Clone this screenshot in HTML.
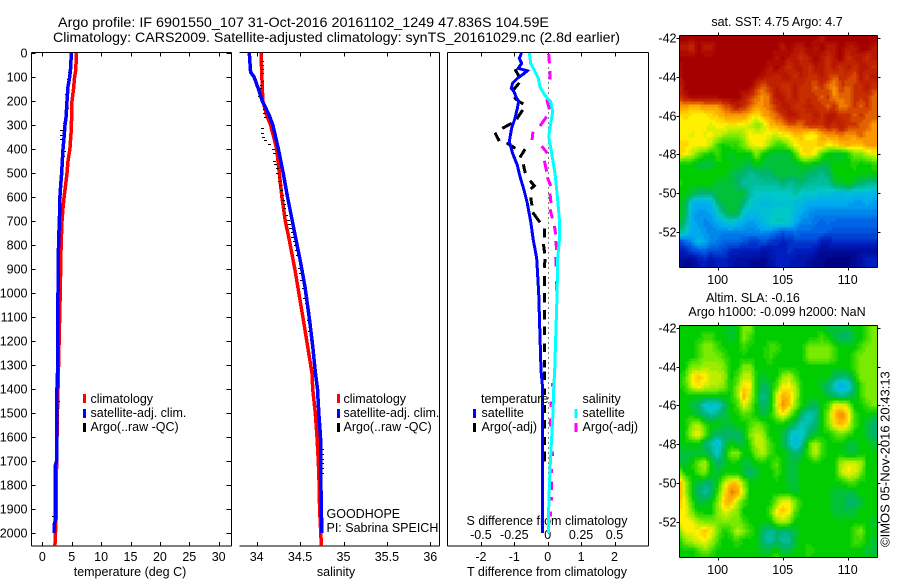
<!DOCTYPE html>
<html>
<head>
<meta charset="utf-8">
<title>Argo profile</title>
<style>
html,body{margin:0;padding:0;background:#fff;width:900px;height:580px;overflow:hidden}
svg{display:block}
text{font-family:"Liberation Sans",sans-serif;font-size:12.5px;fill:#000}
.ttl{font-size:14px}
</style>
</head>
<body>
<svg id="fig" width="900" height="580" viewBox="0 0 900 580" xmlns="http://www.w3.org/2000/svg">
<text class="ttl" x="58" y="27" textLength="491" lengthAdjust="spacingAndGlyphs">Argo profile: IF 6901550_107 31-Oct-2016 20161102_1249 47.836S 104.59E</text>
<text class="ttl" x="53" y="42" textLength="567" lengthAdjust="spacingAndGlyphs">Climatology: CARS2009. Satellite-adjusted climatology: synTS_20161029.nc (2.8d earlier)</text>
<text x="130" y="576" text-anchor="middle">temperature (deg C)</text>
<text x="336" y="576" text-anchor="middle">salinity</text>
<text x="547" y="576" text-anchor="middle">T difference from climatology</text>
<text x="547" y="525" text-anchor="middle">S difference from climatology</text>
<text x="326.5" y="518">GOODHOPE</text>
<text x="326.5" y="532">PI: Sabrina SPEICH</text>
<text x="777" y="26" text-anchor="middle">sat. SST: 4.75 Argo: 4.7</text>
<text x="753" y="302" text-anchor="middle">Altim. SLA: -0.16</text>
<text x="777" y="316" text-anchor="middle">Argo h1000: -0.099 h2000: NaN</text>
<text transform="translate(889.5,547) rotate(-90)" style="font-size:13px">©IMOS 05-Nov-2016 20:43:13</text>
<g id="plots"></g>
</svg>
<script>
// ---------- depth axis ----------
const depthTicks = [0,100,200,300,400,500,600,700,800,900,1000,1100,1200,1300,1400,1500,1600,1700,1800,1900,2000];
// ---------- temperature panel ----------
const tempTicks = [0,5,10,15,20,25,30];
const climTDepth = [0,70,100,150,200,300,330,400,450,500,550,600,650,700,800,1000,1200,1400,1450,1500,1700,1750,1950,2054];
const climT = [5.8,5.7,5.5,5.3,5.05,4.95,4.9,4.7,4.37,4.2,3.97,3.7,3.5,3.35,3.2,3.05,2.85,2.67,2.65,2.55,2.45,2.4,2.33,2.15];
const satTDepth = [0,60,100,140,200,270,300,350,400,450,500,550,600,700,780,1000,1200,1310,1430,1700,1720,1950,1960,2000];
const satT = [4.93,4.83,4.66,4.37,4.2,4.03,3.86,3.7,3.52,3.4,3.3,3.13,3,2.9,2.78,2.67,2.65,2.62,2.45,2.43,2.2,2.2,2.05,2.05];
const argoTDepth = [80,110,170,200,230,260,290,320,340,360,410,430,470,530,600,650,700,760,1450,1480,1510,1540,1930];
const argoT = [4.6,4.5,4.15,4.1,4.25,4.1,3.75,3.3,3.35,3.3,3.75,3.6,3.5,3.2,3.1,3.05,2.95,2.85,2.75,2.65,2.6,2.6,1.95];
// ---------- salinity panel ----------
const salTicks = [34,34.5,35,35.5,36];
const climSDepth = [0,100,200,260,300,400,500,600,700,779,904,1029,1154,1265,1334,1400,1500,1600,1700,1800,1900,2054];
const climS = [34.05,34.06,34.07,34.115,34.16,34.23,34.26,34.29,34.33,34.376,34.441,34.499,34.556,34.606,34.637,34.645,34.675,34.695,34.71,34.72,34.725,34.745];
const satSDepth = [0,80,100,150,200,260,300,400,500,600,700,792,875,975,1104,1221,1329,1400,1500,1600,1800,2000];
const satS = [33.915,33.93,33.97,34.02,34.065,34.145,34.185,34.25,34.305,34.355,34.41,34.461,34.507,34.556,34.606,34.645,34.675,34.7,34.715,34.735,34.74,34.75];
const argoSDepth = [32,50,67,85,115,132,147,161,179,233,249,267,314,335,349,363,380,400,418,449,464,481,501,515,532,550,571,592,613,631,647,675,696,713,731,747,765,782,800,821,842,897,917,944,979,1021,1042,1111,1160,1194,1650,1670,1690,1710,1730,1750];
const argoS = [34.065,34.065,34.065,34.065,34.065,34.057,34.046,34.038,34.03,34.088,34.095,34.099,34.069,34.069,34.077,34.099,34.146,34.192,34.203,34.207,34.219,34.234,34.242,34.257,34.268,34.276,34.288,34.299,34.307,34.315,34.326,34.345,34.364,34.376,34.384,34.411,34.415,34.43,34.449,34.46,34.472,34.49,34.499,34.518,34.537,34.556,34.568,34.595,34.614,34.634,34.755,34.755,34.755,34.755,34.755,34.755];
// ---------- difference panel ----------
const diffTTicks = [-2,-1,0,1,2];
const diffSTicks = [-0.5,-0.25,0,0.25,0.5];
const diffSLabels = ['-0.5','-0.25','0','0.25','0.5'];
const satDiffTDepth = [0,22,43,64,74,88,106,126,147,161,182,203,231,272,314,369,418,467,515,571,626,703,779,856,1000,1321,1400,2000];
const satDiffT = [-0.78,-0.85,-0.78,-0.88,-0.61,-0.73,-0.91,-1.05,-1.09,-1.01,-0.95,-0.87,-0.91,-0.98,-1.08,-1.15,-1.05,-0.91,-0.83,-0.71,-0.61,-0.51,-0.43,-0.33,-0.27,-0.2,-0.15,-0.15];
const satDiffSDepth = [0,43,78,106,142,177,203,244,293,349,418,501,599,696,779,856,1000,1321,1400,1500,1600,1700,1800,1900,2000];
const satDiffS = [-0.1375,-0.1275,-0.095,-0.07,-0.0575,-0.02,0.0225,0.0375,0.0225,0.0075,0.03,0.055,0.0725,0.0875,0.0875,0.075,0.07,0.0525,0.045,0.04,0.03,0.02,0.0125,0.0075,0.005];
// null entries are pen-up breaks between the dashes of the dashed line
const argoDiffTDepth = [68,99,null,124,151,null,185,203,212,null,237,276,null,293,314,null,332,367,null,374,397,null,401,435,null,464,501,null,532,553,567,null,602,636,null,664,706,null,731,768,null,796,835,null,858,895,null,930,970,null,1000,1040,null,1070,1110,null,1140,1175,null,1210,1245,null,1280,1310,null,1328,1362,null,1397,1425,null,1467,1501,null,1529,1564,null,1599,1633,null,1661,1703,null,1731,1765];
const argoDiffT = [-0.98,-0.85,null,-0.85,-1.01,null,-1.01,-0.85,-0.73,null,-0.75,-0.93,null,-1.08,-1.36,null,-1.58,-1.45,null,-1.23,-0.97,null,-0.68,-0.83,null,-0.73,-0.67,null,-0.53,-0.4,-0.51,null,-0.51,-0.47,null,-0.45,-0.23,null,-0.1,-0.1,null,-0.13,-0.09,null,-0.08,-0.1,null,-0.1,-0.1,null,-0.1,-0.1,null,-0.1,-0.1,null,-0.09,-0.09,null,-0.09,-0.09,null,-0.09,-0.09,null,-0.09,-0.09,null,-0.09,-0.09,null,-0.09,-0.09,null,-0.09,-0.09,null,-0.09,-0.09,null,-0.09,-0.09];
const argoDiffSDepth = [4,43,null,74,110,null,193,235,null,265,304,null,328,363,null,388,418,null,449,494,null,518,554,null,585,626,null,651,689,null,721,756,null,783,821,null,851,890,null,950,990,null,1376,1390,null,1453,1474,null,1522,1557,null,1661,1679,null,1733,1751,null,1786,1821,null,1849,1865,null,1911,1932];
const argoDiffS = [0.0075,0.0125,null,0.0175,0.0175,null,-0.0075,0.0125,null,-0.0075,-0.0575,null,-0.11,-0.1175,null,-0.045,-0.0025,null,-0.025,-0.0075,null,-0.0025,0.0225,null,0.0175,0.025,null,0.0175,0.035,null,0.05,0.06,null,0.06,0.0675,null,0.06,0.0625,null,0.0675,0.0675,null,0.0375,0.0375,null,0.025,0.025,null,0.02,0.02,null,0.035,0.035,null,0.03,0.03,null,0.0275,0.0275,null,0.0275,0.0275,null,0.02,0.02];
// ---------- map axes ----------
const mapLonTicks = [100,105,110];
const mapLatTicks = [-42,-44,-46,-48,-50,-52];
// map grids: rows lat -42 to -54 every 0.5 deg, columns lon 97 to 112 every 0.5 deg
const sstGrid = [
[11,11,11,11,11,11,11,11,11,11,11,11,11,11,11,11,11,11,11,11,11,11,10.5,11,11,11,11,11,11,11,11],
[10.5,10.5,10,11,10.5,10.5,11,11,11,11,11,11,11,11,11,11,10.5,11,10.5,10.5,11,10.5,11,10.5,10.5,11,10.5,10.5,11,11,10.5],
[11,11,11,11,11,11,11,11,11,11,11,11,11,11,11,10.5,11,10.5,10.5,10,10.5,11,10.5,10,10.5,11,10,10.5,10.5,10,10.5],
[10.5,11,11,11,11,11,11,11,11,11,11,11,11,11,10.5,11,10.5,10,10.5,10.5,10,10.5,10.5,10,10.5,10,10.5,10,10.5,10.5,10],
[10.5,11,11,11,11,11,11,11,11,11,11,11,11,10.5,10.5,10,10.5,10.5,10,10.5,10,10,10.5,10,9.5,10,10,9.5,10.5,10,10.5],
[10,11,11,11,11,11,11,11,11,11,11,11,10,9.5,10,10.5,10,10,10.5,10,10,9.5,10,9.5,9,10,9.5,10,10,10.5,10],
[10,10.5,11,11,11,11,11,11,11,11,10.5,10,9.5,9,9.5,10.5,10.5,10,10.5,10,10,10,9.5,10,9,9.5,9.5,10,10,10,9.5],
[9,9,8.8,8.8,9,9,9,9.5,10,10.5,10,9.5,9,9,9.5,10,10.5,10.5,10,10,10.5,10,10,9.5,10,9,9.5,10,9.5,10,9.5],
[8,8.3,8,8,8,8.3,8.5,8.8,9,9,9,8.5,8,8.8,9,9.5,10,10.5,10.5,10,10,10.5,10,10.5,10.5,10,10,9.5,10,9.5,9.5],
[8,8,8,8,8,7.7,8,8,8,8,7.8,7.5,7,7.5,8.5,8.8,9,9.5,9.5,9.5,10,10,10,10.5,10,10.5,10,10,9.5,9.5,9],
[7.8,8,7.8,8,7.8,8,7.7,7.3,7,7,7.3,8,8,8,7.8,7.5,8,8,8.5,8.5,7.8,8,8.8,9,9,9.5,9,9,9.5,9,9],
[8.3,8.3,8,8,8,7.5,6.5,6,6.5,6.3,7,7.8,8,8,7.3,6.5,6.5,7.3,8,8.3,8.3,8.3,8.5,8,8.3,8.5,8.8,8.5,8.5,9,9],
[8.3,8,7.5,6.8,6.3,6,6.5,6,5.5,6,6,6,7,6,5.5,5.5,5.5,5.5,6.5,8,8.3,7.8,6.5,6,5.5,5.5,6,7,7,7.5,7.8],
[6,6,6,5.5,5.5,5.5,6,6,6,5.8,5.5,5.5,6,5.5,5.5,5.5,5.5,5.5,5.5,6,6,5.5,5.5,5.5,6,6,6,6.3,6,6,6.3],
[6,6,6,6,6,6,6,6,5.5,5.3,5,4.5,4.8,5,5,5.5,5.5,5.5,5.5,5.5,5,5,4.5,5,6,6,6,6,6,6,6],
[6.3,6,6,6,6,6,5.5,5.5,5.5,5,4.5,4.5,4.5,4.5,4.5,4.5,5,4.5,4.8,5,4.5,4.5,4.5,4.5,5.5,5.5,6,5.5,5,4.8,4.5],
[6,6,5.5,5,5,5,5.5,5.5,5.5,5.5,5.5,4.5,4,4,4,4,4,4,4.5,4,4,4,3.7,3.7,3.5,3.5,3.8,3.5,3.5,3.5,3.5],
[6,5.5,3.5,3,3,3.5,5,5.5,5.5,5.5,5,4,3.8,3.5,3.5,3.8,3.8,3.8,3.5,3.5,3,3,3,3,3,3,3,2.8,2.8,3,2.8],
[6,5.5,3,2.8,2.8,3,4,5,5.5,5.5,4,3.5,3.5,3.8,3.8,4,4,4,3.5,3,2.7,2.5,2.5,2.5,2.5,2.5,2.5,2.5,2.5,2.5,2.5],
[5.5,5,3,2.8,2.5,2.7,3,3.5,4,3.5,3,2.7,3,3.5,4,4.2,4.2,4,3,2.5,2.5,2.2,2,2.2,2,2,2,2,2,2,2],
[5,4,3,3,2.7,2.5,2.5,2.5,2.5,2.5,2.5,2.5,2.5,2.7,2.5,2.2,1.8,2,2.2,2,2,2,2,1.8,1.8,1.8,1.7,1.7,1.7,1.7,1.7],
[1.5,2,2.5,3.5,3,2.5,2.3,2,2,2,1.8,1.5,1.5,1.7,1.5,1.2,1,1.2,1.5,1.5,1.5,1.5,1,1,1.2,1.2,1.2,1.2,1.2,1.2,1.2],
[0.8,1,1.5,1.7,2,1.5,1.7,1.5,1,1,0.8,1,1,0.6,0.7,1,1,1.2,1,1,1,0.7,0.3,0.3,0.3,0.3,0.3,0.3,0.5,0.5,0.5],
[0.5,0.3,0.3,0.7,1,0.7,1,1,0.7,0.5,0.5,0.3,0.3,0.2,0.5,1,1,1,0.7,0.7,0.5,0.2,0.2,0,0,0,0,0.3,0.5,1,1],
[0.5,0.3,0.3,0.7,1,0.7,1,1,0.7,0.5,0.5,0.3,0.3,0.2,0.5,1,1,1,0.7,0.7,0.5,0.2,0.2,0,0,0,0,0.3,0.5,1,1]
];
const slaGrid = [
[6,6,6,6,6,6,6,6,5.5,6,7,7,6,6,6,6,6,6,6,6,6,6,6,5.5,5.5,5.5,5.5,6,6,6.5,7],
[6,6,6,6,6.5,6.5,6,6,5.5,6,7,6.5,6,6,6,6,6,6,6,6,6,6,6.5,6,5.5,5,5,5.5,6,6.5,7],
[6,6,6,6.5,7,7,6.5,6,6,6,6.5,6,6,6,6.5,6.5,6,6,6,6,7,7,7,7,6.5,6,6,6,6.5,7,7],
[6,6,6,6.5,7,7,7,6.5,6,6,6,6,6,6,6.5,6,6,6,6,6,7,7,7,7,6.5,6,6,6.5,7,7,7],
[6,6,7,7,7.3,7.3,7.3,7,6,6,7,7,6,6,6,6,6,6,6,6,6,6,6,6,6,6,6,6.5,7,7,7],
[6,6.5,8,8.5,8,7.5,7.5,7.3,6,6.5,7.5,7.5,6,5.5,6,6,7,7.5,6.5,6,6,6,6,6,5,5,5,6,7,7,7],
[6,6.5,7.8,8.2,7.8,7.5,7.5,7,6,7,8.2,8,6,5,5.5,6.5,8,8,7.3,6,6,6,5.5,5,4,3,3.5,5,6.5,7,7],
[6,6,6,6,6,6,6,6,6,7,8.8,7.6,6,4.5,5.5,7.5,8.7,8.5,7.5,6,6,6,6,5.5,5,4.5,5,5.5,6.5,7,7],
[6,6,5.5,5,4,3.5,3.8,5,6,6.5,7.8,7,6,4.8,5.5,7.6,9,8.5,7,6,5.5,5,6,6.5,8,8,7.5,6,6,6.5,7],
[6,6,6,5.5,5,4.5,5,5.5,6,6,6.5,6.5,6,5.5,6,7,8,7,6,5,4,4.5,6,7,8.6,9.2,8.5,6.5,6,6,5.5],
[6,6,7,7.5,6.5,6,6,5.5,5.5,6,6,6.5,7,6.5,6,6,6,5.5,5,4,4.5,5,6,7,8.2,8.6,8,6.5,6,5.5,5],
[5.5,6,7.5,8,7,5.5,5,5,5,5,5.5,7,7.5,7.3,6,6,5.5,4.5,3.5,4,5,5.5,6,6,6.5,7,6.5,6,6,5.5,5],
[5.5,6,6,6,5,4.5,3.5,5,6,5.5,5.5,6.5,7.5,7.5,6.5,6,5.5,4.5,3.5,4.5,6.5,7.5,6.5,6,6,6,5.5,5.5,6,6,5.5],
[5.5,5.5,5.5,5.5,5.5,5,4,5.5,7,7.2,6,6,7,7.5,6.5,6,6,5.5,5,5.5,6.5,7.5,6.5,6,6,6,5.5,5.5,6,6,6],
[5.5,5.5,6,7,7.5,6,5,5.5,6,6,5.5,5.5,6,6,6,6.8,6,5.5,5.5,6,6,6,6,6,6,7.5,7.8,7.8,7.5,6,6],
[7.5,6,6,6.5,7,6,5.5,6,6,6,5.5,5,5.5,6,6,6.5,6,5.5,5.5,6,6,6,6,6,6,7.5,8,7.8,7,6,6],
[9,7.5,6,5.5,5,5,6,7.5,8.5,8.5,7,6,6,6,6,6,6,5.5,5.5,6,6,6,6,6,6,6,6.5,6.5,6,6,6],
[9,7.5,6,5,4.5,5,6.5,8,9.2,9,7.5,6,6,6,6,6,6,6,5.5,6,6,6,6,6,5.5,5.5,5.5,5.5,6,6,6],
[8.5,8,6.5,5.5,5.5,6,7,8.5,8.8,7.5,6.5,6,6,6,6,7,8,8,7,6,6,6,6,6,5.5,5.5,5,5,5.5,6,6],
[8,8,7,6,6,6,7,7.8,7.5,7,6,6,6,6,6.5,8,8.5,8,6.5,6,6,6,6,6,5.5,5.5,5.5,5.5,6,6,6],
[8,8,8,7.3,7,7,7,7,7,7,6.5,6,6,6,6,7,7.5,7,6,6,6,6,6,6,6,6,6,6,6,6,5.5],
[7,8,8,8,8.5,8,7,6,6.5,7.5,7,6.5,6,5,4.5,5,5,5,5.5,6,6,6,6,6,6,6,6,6.5,7,6,6],
[6,7,7.5,7.8,8,7.5,6.5,6,6,6.5,6,6,6,4.8,4.5,5,4.5,4.5,5.5,6,6,6,6,6,6,6,6,6.5,6.5,6,5.5],
[6,6,6,6.5,7,6.5,6,6,6,6,6,6,6,5.5,5.5,6,5.5,5.5,6,6,6.5,6,6,6,6,6,6,6,6,5.5,5.5],
[6,6,6,6,6,6,6,6,6,6,6,6,6,6,6,7,6,6,6,6,6,6,6,6,6,6,6,6,6,6,6]
];

const NS = 'http://www.w3.org/2000/svg';
const root = document.getElementById('plots');
function mk(tag, props, parent) {
  const e = document.createElementNS(NS, tag);
  for (const k in props) e.setAttribute(k, props[k]);
  (parent || root).appendChild(e);
  return e;
}
// axis functions
const yDepth = d => 53 + d * 0.24;
const xTemp = v => 42.3 + v * 5.88;
const xSal = v => 256.7 + (v - 34) * 86.8;
const xDiffT = v => 547.7 + v * 33.4;
const xDiffS = v => 547.7 + v * 133.6;
const AX = {top: 52.5, bottom: 546};

function seriesPath(depths, values, xf) {
  let d = '', pen = false;
  for (let i = 0; i < depths.length; i++) {
    if (depths[i] === null || values[i] === null) { pen = false; continue; }
    d += (pen ? 'L' : 'M') + xf(values[i]).toFixed(1) + ' ' + yDepth(depths[i]).toFixed(1);
    pen = true;
  }
  return d;
}
function line(depths, values, xf, color, width, name) {
  const p = mk('path', {d: seriesPath(depths, values, xf), fill: 'none', stroke: color, 'stroke-width': width, 'stroke-linejoin': 'miter', 'stroke-linecap': 'butt', 'shape-rendering': 'crispEdges'});
  
  
}
function argoMarks(depths, values, xf, name) {
  depths.forEach((dep, i) => {
    const r = mk('rect', {x: Math.round(xf(values[i]) - 1.5), y: Math.round(yDepth(dep)), width: 3, height: 1, fill: '#000'});
    
    
  });
}
function hseg(x1, x2, y, name) {
  const l = mk('line', {x1: x1, x2: x2, y1: y, y2: y, stroke: '#000', 'stroke-width': 1});
  
  
}
function vseg(x, y1, y2, name) {
  const l = mk('line', {x1: x, x2: x, y1: y1, y2: y2, stroke: '#000', 'stroke-width': 1});
  
  
}
function label(str, x, y, anchor, name) {
  const t = mk('text', {x: x, y: y, 'text-anchor': anchor});
  t.textContent = str;
  
  
}
function panelFrame(l, r, hasLeft, xticks, xf, labels, prefix) {
  hseg(l, r, AX.top, prefix + '-top-axis');
  hseg(l, r, AX.bottom, prefix + '-bottom-axis');
  vseg(r, AX.top, AX.bottom, prefix + '-right-axis');
  if (hasLeft) vseg(l, AX.top, AX.bottom, prefix + '-left-axis');
  xticks.forEach((v, i) => {
    const x = Math.round(xf(v)) + 0.5;
    vseg(x, AX.top, AX.top + 4, prefix + '-top-tick');
    vseg(x, AX.bottom - 4, AX.bottom, prefix + '-bottom-tick');
    label(labels[i], xf(v), 561, 'middle', prefix + '-x-tick-label');
  });
}
function legendBar(x, y, color, name) {
  const r = mk('rect', {x: x, y: y, width: 3, height: 9, fill: color});
  
  
}

// Temperature panel
panelFrame(31.5, 231.5, true, tempTicks, xTemp, tempTicks.map(String), 'temperature');
depthTicks.forEach(d => {
  const y = Math.round(yDepth(d)) + 0.5;
  hseg(31.5, 35.5, y, 'depth-left-tick');
  hseg(226.5, 231.5, y, 'depth-right-tick');
  label(String(d), 27.5, y + 4, 'end', 'depth-tick-label');
});
line(climTDepth, climT, xTemp, '#ff0000', 3.5, 'temperature-climatology-line');
argoMarks(argoTDepth, argoT, xTemp, 'temperature-argo-mark');
line(satTDepth, satT, xTemp, '#0000ff', 3.5, 'temperature-satellite-line');
legendBar(83, 394, '#ff0000', 'temperature-legend-climatology-swatch');
legendBar(83, 409, '#0000ff', 'temperature-legend-satellite-swatch');
legendBar(83, 423, '#000000', 'temperature-legend-argo-swatch');
label('climatology', 90.5, 403, 'start', 'temperature-legend-climatology');
label('satellite-adj. clim.', 90.5, 417, 'start', 'temperature-legend-satellite');
label('Argo(..raw -QC)', 90.5, 431, 'start', 'temperature-legend-argo');

// Salinity panel
panelFrame(239.5, 439.5, false, salTicks, xSal, ['34','34.5','35','35.5','36'], 'salinity');
line(climSDepth, climS, xSal, '#ff0000', 3.5, 'salinity-climatology-line');
argoMarks(argoSDepth, argoS, xSal, 'salinity-argo-mark');
line(satSDepth, satS, xSal, '#0000ff', 3.5, 'salinity-satellite-line');
legendBar(337, 394, '#ff0000', 'salinity-legend-climatology-swatch');
legendBar(337, 409, '#0000ff', 'salinity-legend-satellite-swatch');
legendBar(337, 423, '#000000', 'salinity-legend-argo-swatch');
label('climatology', 343.5, 403, 'start', 'salinity-legend-climatology');
label('satellite-adj. clim.', 343.5, 417, 'start', 'salinity-legend-satellite');
label('Argo(..raw -QC)', 343.5, 431, 'start', 'salinity-legend-argo');

// Difference panel
panelFrame(447.5, 648.5, true, diffTTicks, xDiffT, diffTTicks.map(String), 'difference');
diffSTicks.forEach((v, i) => label(diffSLabels[i], xDiffS(v), 539, 'middle', 's-difference-tick-label'));
const zeroLine = mk('line', {x1: 548.5, x2: 548.5, y1: AX.top, y2: AX.bottom, stroke: '#000', 'stroke-width': 1, 'stroke-dasharray': '1 4'});


line(argoDiffSDepth, argoDiffS, xDiffS, '#ff00ff', 3, 'salinity-argo-difference-line');
line(argoDiffTDepth, argoDiffT, xDiffT, '#000000', 3, 'temperature-argo-difference-line');
line(satDiffSDepth, satDiffS, xDiffS, '#00ffff', 3, 'salinity-satellite-difference-line');
line(satDiffTDepth, satDiffT, xDiffT, '#0000ff', 3, 'temperature-satellite-difference-line');
label('temperature', 481, 403, 'start', 'difference-legend-temperature-heading');
label('satellite', 481.5, 417, 'start', 'difference-legend-temperature-satellite');
label('Argo(-adj)', 481.5, 431, 'start', 'difference-legend-temperature-argo');
label('salinity', 582.5, 403, 'start', 'difference-legend-salinity-heading');
label('satellite', 582.5, 417, 'start', 'difference-legend-salinity-satellite');
label('Argo(-adj)', 582.5, 431, 'start', 'difference-legend-salinity-argo');
legendBar(473, 409, '#0000ff', 'difference-legend-temperature-satellite-swatch');
legendBar(473, 423, '#000000', 'difference-legend-temperature-argo-swatch');
legendBar(574.5, 409, '#00ffff', 'difference-legend-salinity-satellite-swatch');
legendBar(574.5, 423, '#ff00ff', 'difference-legend-salinity-argo-swatch');

// Maps
const levelColors = [[0,0,130],[0,30,190],[0,100,230],[0,170,240],[0,200,200],[0,180,110],[0,205,0],[120,235,0],[255,240,0],[250,150,0],[200,45,0],[165,0,0]];
function colorOf(v) {
  const q = Math.max(0, Math.min(11, Math.round(v * 4) / 4));
  const a = Math.floor(q), b = Math.min(11, a + 1), f = q - a;
  const c = levelColors[a].map((n, i) => Math.round(n + (levelColors[b][i] - n) * f));
  return 'rgb(' + c.join(',') + ')';
}
function sample(grid, lon, lat) {
  const cf = (lon - 97) * 2, rf = (-lat - 42) * 2;
  const c0 = Math.max(0, Math.min(29, Math.floor(cf))), r0 = Math.max(0, Math.min(23, Math.floor(rf)));
  const fx = Math.max(0, Math.min(1, cf - c0)), fy = Math.max(0, Math.min(1, rf - r0));
  return (grid[r0][c0] * (1 - fx) + grid[r0][c0 + 1] * fx) * (1 - fy) + (grid[r0 + 1][c0] * (1 - fx) + grid[r0 + 1][c0 + 1] * fx) * fy;
}
function drawMap(grid, top, bottom, lat42y, prefix, labelY) {
  const left = 679.5, right = 877.5;
  const xLon = lon => 717.7 + (lon - 100) * 13;
  const yLat = lat => lat42y + (-lat - 42) * 19.35;
  const lonOf = x => 100 + (x - 717.7) / 13;
  const latOf = y => -(42 + (y - lat42y) / 19.35);
  const g = mk('g', {'shape-rendering': 'crispEdges'});
  
  
  for (let y = top; y < bottom; y += 3) {
    for (let x = left; x < right; x += 3) {
      const r = mk('rect', {x: x, y: y, width: 3, height: 3, fill: colorOf(sample(grid, lonOf(x + 1.5), latOf(y + 1.5)))}, g);
      
      
    }
  }
  const mask = mk('rect', {x: right, y: top, width: 3, height: bottom - top + 3, fill: '#fff'});
  
  
  const mask2 = mk('rect', {x: left - 1, y: bottom, width: 203, height: 3, fill: '#fff'});
  
  
  hseg(left, right, top, prefix + '-top-axis');
  hseg(left, right, bottom, prefix + '-bottom-axis');
  vseg(left, top, bottom, prefix + '-left-axis');
  vseg(right, top, bottom, prefix + '-right-axis');
  mapLonTicks.forEach(v => {
    const x = Math.round(xLon(v)) + 0.5;
    vseg(x, top - 3, top, prefix + '-top-tick');
    vseg(x, bottom, bottom + 3, prefix + '-bottom-tick');
    label(String(v), xLon(v), labelY, 'middle', prefix + '-lon-tick-label');
  });
  mapLatTicks.forEach(v => {
    const y = Math.round(yLat(v)) + 0.5;
    hseg(left - 3, left, y, prefix + '-left-tick');
    hseg(right, right + 3, y, prefix + '-right-tick');
    label(String(v), 676.5, y + 4, 'end', prefix + '-lat-tick-label');
  });
}
drawMap(sstGrid, 35.5, 267.5, 38.3, 'sst-map', 284);
drawMap(slaGrid, 325.5, 557.5, 328, 'sla-map', 574);
</script>
</body>
</html>
